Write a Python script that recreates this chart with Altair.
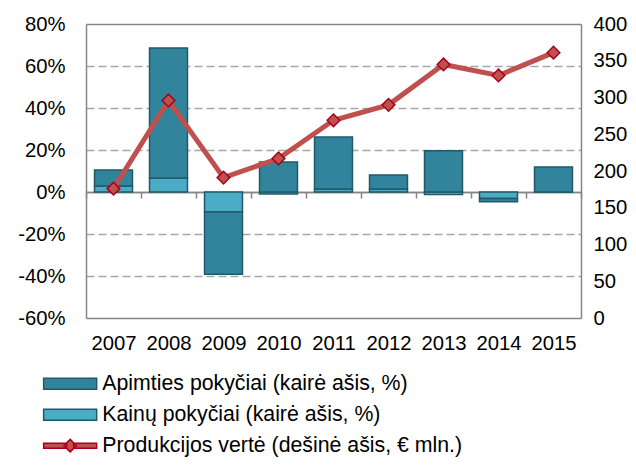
import altair as alt
import pandas as pd

years = ["2007", "2008", "2009", "2010", "2011", "2012", "2013", "2014", "2015"]
apimties = [7.6, 61.9, -29.7, 14.3, 24.8, 6.7, 19.7, -1.6, 11.9]
kainu = [2.9, 6.7, -9.5, -0.9, 1.4, 1.4, -1.2, -3.1, 0.0]
produkcija = [176, 296, 191, 217, 269, 290, 345, 330, 361]

series_names = [
    "Apimties pokyčiai (kairė ašis, %)",
    "Kainų pokyčiai (kairė ašis, %)",
    "Produkcijos vertė (dešinė ašis, € mln.)",
]
left_ticks = [-60, -40, -20, 0, 20, 40, 60, 80]
right_ticks = [0, 50, 100, 150, 200, 250, 300, 350, 400]

bar_df = pd.DataFrame({
    "year": years * 2,
    "series": [series_names[1]] * len(years) + [series_names[0]] * len(years),
    "value": kainu + apimties,
    "ord": [0] * len(years) + [1] * len(years),
})
line_df = pd.DataFrame({"year": years, "value": produkcija})
legend_df = pd.DataFrame({"series": series_names})

FONT = "Liberation Sans"
FS = 20.3
LEG_FS = 21.3
AXIS_GRAY = "#868686"

x_axis = alt.Axis(
    title=None, orient="bottom", offset=-126, tickBand="extent",
    tickSize=6, tickColor=AXIS_GRAY, tickWidth=1.5,
    domainColor=AXIS_GRAY, domainWidth=1.5,
    labelPadding=135, labelAngle=0, labelFontSize=FS, labelFont=FONT,
    labelColor="black",
)
x_enc = alt.X("year:N", sort=years, axis=x_axis,
              scale=alt.Scale(paddingInner=0, paddingOuter=0))

solid_test = "datum.value == 80 || datum.value == -60 || datum.value == 0"
left_axis = alt.Axis(
    title=None, orient="left", values=left_ticks,
    labelExpr="datum.value + '%'",
    grid=True,
    gridDash={"condition": {"test": solid_test, "value": []}, "value": [8, 4]},
    gridColor={"condition": {"test": solid_test, "value": AXIS_GRAY}, "value": "#A6A6A6"},
    gridWidth=1.5, ticks=False,
    domainColor=AXIS_GRAY, domainWidth=1.5,
    labelPadding=21, labelFontSize=FS, labelFont=FONT, labelColor="black",
)
right_axis = alt.Axis(
    title=None, orient="right", values=right_ticks, grid=False, ticks=False,
    domainColor=AXIS_GRAY, domainWidth=1.5,
    labelPadding=12, labelFontSize=FS, labelFont=FONT, labelColor="black",
)

color_scale = alt.Scale(domain=series_names, range=["#31849B", "#4BACC6", "#C0504D"])

rect_path = "M-5.3,-1.1H5.3V1.1H-5.3Z"
line_path = ("M-5.3,-0.5H-0.7V0.5H-5.3Z M0.7,-0.5H5.3V0.5H0.7Z "
             "M0,-1.25L1.25,0L0,1.25L-1.25,0Z")

legend_def = alt.Legend(
    title=None, orient="none", legendX=-44, legendY=349, direction="vertical",
    labelFontSize=LEG_FS, labelFont=FONT, labelColor="black", labelLimit=600,
    symbolSize=100, symbolStrokeWidth=1.5, symbolOffset=17.5, labelOffset=21.5,
    rowPadding=9.0, symbolOpacity=1,
)

bars = alt.Chart(bar_df).mark_bar(
    width={"band": 0.69}, stroke="#215968", strokeWidth=1.5
).encode(
    x=x_enc,
    y=alt.Y("value:Q", stack="zero",
            scale=alt.Scale(domain=[-60, 80], nice=False, zero=False),
            axis=left_axis),
    color=alt.Color("series:N", scale=color_scale, legend=legend_def),
    order=alt.Order("ord:Q"),
)

line_base = alt.Chart(line_df).encode(
    x=x_enc,
    y=alt.Y("value:Q", scale=alt.Scale(domain=[0, 400], nice=False),
            axis=right_axis),
)
line = line_base.mark_line(color="#C0504D", strokeWidth=5)
pts = line_base.mark_point(shape="diamond", filled=True, fill="#C0504D",
                           stroke="#A8001E", strokeWidth=1.5, size=160, opacity=1)

leg = alt.Chart(legend_df).mark_point(filled=True, opacity=0).encode(
    color=alt.Color("series:N", scale=color_scale, legend=legend_def),
    shape=alt.Shape("series:N",
                    scale=alt.Scale(domain=series_names,
                                    range=[rect_path, rect_path, line_path]),
                    legend=legend_def),
    stroke=alt.Stroke("series:N",
                      scale=alt.Scale(domain=series_names,
                                      range=["#215968", "#215968", "#A8001E"]),
                      legend=legend_def),
)

chart = alt.layer(leg, bars, alt.layer(line, pts)).resolve_scale(
    y="independent"
).properties(
    width=495, height=294,
    autosize=alt.AutoSizeParams(type="none"),
    padding={"left": 78, "top": 16, "right": 47, "bottom": 139},
).configure_view(stroke=None).configure(font=FONT)

chart.save("out.html", embed_options={"renderer": "svg", "actions": False})
